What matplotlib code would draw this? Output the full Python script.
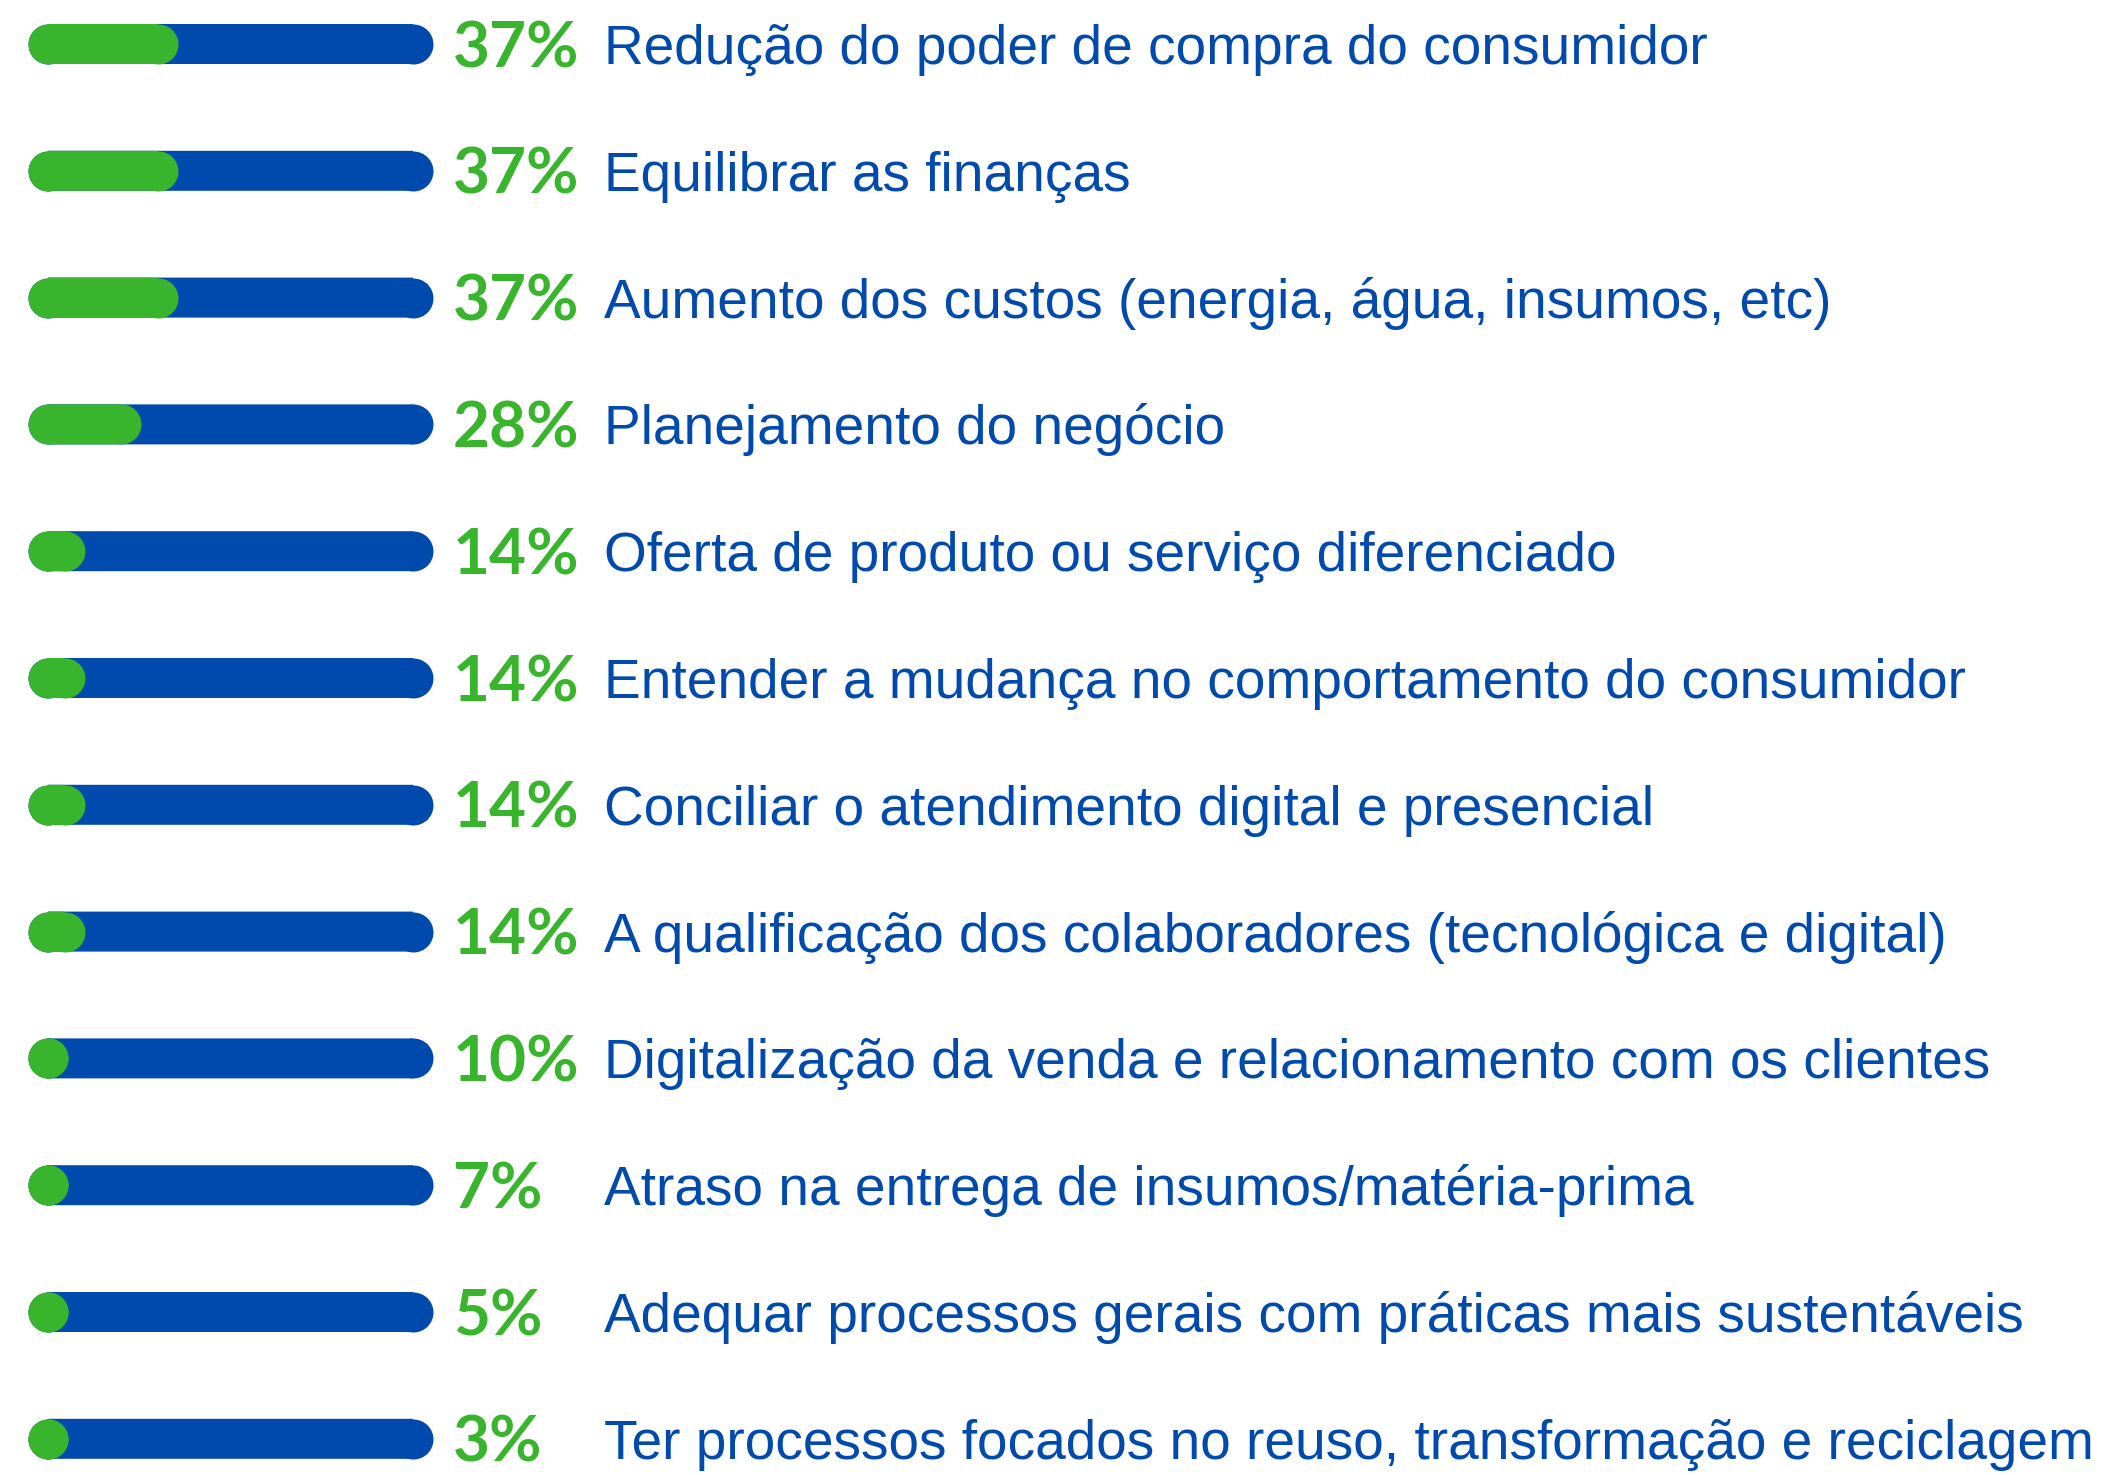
import matplotlib
matplotlib.use("Agg")
import matplotlib.pyplot as plt

categories = [
    "Redução do poder de compra do consumidor",
    "Equilibrar as finanças",
    "Aumento dos custos (energia, água, insumos, etc)",
    "Planejamento do negócio",
    "Oferta de produto ou serviço diferenciado",
    "Entender a mudança no comportamento do consumidor",
    "Conciliar o atendimento digital e presencial",
    "A qualificação dos colaboradores (tecnológica e digital)",
    "Digitalização da venda e relacionamento com os clientes",
    "Atraso na entrega de insumos/matéria-prima",
    "Adequar processos gerais com práticas mais sustentáveis",
    "Ter processos focados no reuso, transformação e reciclagem",
]
values = [37, 37, 37, 28, 14, 14, 14, 14, 10, 7, 5, 3]
value_labels = [f"{v}%" for v in values]

BLUE = "#004AAD"
GREEN = "#38B52C"

W, H, DPI = 2106, 1475, 100
fig = plt.figure(figsize=(W / DPI, H / DPI), dpi=DPI)
ax = fig.add_axes([0, 0, 1, 1])
ax.set_axis_off()

# layout (pixels)
track_left_px = 28
track_w_px = 405
row0_px = 44
row_step_px = 126.8
bar_h_px = 40

px_per_unit = track_w_px / 100.0
ax.set_xlim(-track_left_px / px_per_unit, (W - track_left_px) / px_per_unit)
ax.set_ylim((H - row0_px) / row_step_px, -row0_px / row_step_px)

lw_pt = bar_h_px * 72.0 / DPI
r = (bar_h_px / 2) / px_per_unit  # cap radius in data units

pct_x = (453 - track_left_px) / px_per_unit
lab_x = (604 - track_left_px) / px_per_unit


def rounded_bar(x0, x1, y, color, z):
    # butt-capped line with circular markers at both ends -> pill shape
    ax.plot([x0, x1], [y, y], color=color, lw=lw_pt, solid_capstyle="butt",
            marker="o", markersize=lw_pt, markeredgewidth=0,
            markerfacecolor=color, snap=False, zorder=z)


for i, (cat, v, lab) in enumerate(zip(categories, values, value_labels)):
    rounded_bar(r, 100 - r, i, BLUE, 2)
    end = max(v, 2 * r) - r
    rounded_bar(r, end, i, GREEN, 3)
    ax.annotate(lab, xy=(pct_x, i), xytext=(0, -23), textcoords="offset pixels",
                ha="left", va="baseline", color=GREEN, fontsize=46,
                fontfamily="Lato", fontweight="bold", zorder=4)
    ax.annotate(cat, xy=(lab_x, i), xytext=(0, -20), textcoords="offset pixels",
                ha="left", va="baseline", color=BLUE, fontsize=39.6,
                fontfamily="Liberation Sans", zorder=4)

fig.savefig("out.png", dpi=DPI, facecolor="white")
